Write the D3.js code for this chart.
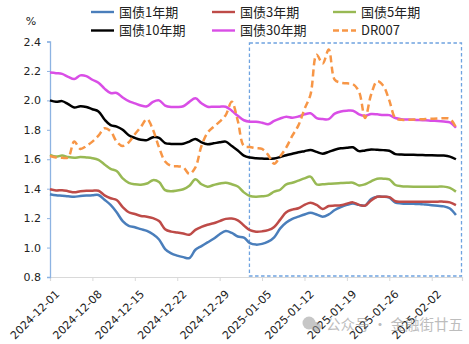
<!DOCTYPE html>
<html><head><meta charset="utf-8">
<script src="https://cdn.jsdelivr.net/npm/d3@7/dist/d3.min.js"></script>
<style>body{margin:0;background:#fff}svg{display:block}</style>
</head><body>
<script>
// ---- data ----
const startDate = "2024-12-01";      // first observation; one value per day
const tickDates = ["2024-12-01","2024-12-08","2024-12-15","2024-12-22","2024-12-29","2025-01-05","2025-01-12","2025-01-19","2025-01-26","2025-02-02"];
const yTicks = [0.8,1.0,1.2,1.4,1.6,1.8,2.0,2.2,2.4];
const seriesNames = ["国债1年期","国债3年期","国债5年期","国债10年期","国债30年期","DR007"];
const cgb1y = [1.362,1.355,1.352,1.348,1.345,1.35,1.353,1.355,1.357,1.325,1.29,1.24,1.18,1.148,1.138,1.125,1.113,1.09,1.055,0.99,0.96,0.945,0.935,0.928,0.985,1.01,1.035,1.06,1.09,1.112,1.1,1.075,1.068,1.03,1.02,1.025,1.04,1.07,1.13,1.17,1.195,1.21,1.225,1.237,1.225,1.21,1.225,1.255,1.275,1.29,1.3,1.29,1.285,1.33,1.345,1.345,1.34,1.305,1.3,1.298,1.297,1.296,1.292,1.288,1.284,1.28,1.265,1.221];
const cgb3y = [1.396,1.388,1.39,1.383,1.375,1.382,1.386,1.386,1.386,1.355,1.335,1.323,1.275,1.24,1.228,1.215,1.21,1.2,1.18,1.125,1.108,1.102,1.095,1.087,1.12,1.14,1.155,1.165,1.18,1.195,1.197,1.185,1.15,1.118,1.108,1.11,1.118,1.14,1.19,1.24,1.258,1.267,1.29,1.305,1.29,1.262,1.282,1.285,1.287,1.298,1.307,1.29,1.285,1.32,1.345,1.345,1.343,1.315,1.312,1.312,1.312,1.312,1.312,1.312,1.312,1.312,1.307,1.289];
const cgb5y = [1.63,1.618,1.625,1.615,1.61,1.615,1.612,1.607,1.595,1.565,1.535,1.52,1.47,1.44,1.43,1.427,1.435,1.458,1.445,1.39,1.383,1.388,1.396,1.42,1.464,1.43,1.414,1.425,1.435,1.441,1.43,1.415,1.375,1.35,1.345,1.348,1.355,1.38,1.393,1.43,1.44,1.455,1.47,1.482,1.43,1.43,1.433,1.436,1.438,1.44,1.441,1.422,1.43,1.45,1.468,1.468,1.464,1.425,1.417,1.415,1.414,1.414,1.414,1.414,1.414,1.414,1.405,1.38];
const cgb10y = [2.0,1.99,1.995,1.975,1.952,1.96,1.955,1.94,1.925,1.87,1.832,1.822,1.8,1.763,1.745,1.732,1.73,1.75,1.745,1.71,1.704,1.703,1.705,1.72,1.738,1.715,1.702,1.708,1.715,1.72,1.69,1.66,1.625,1.612,1.607,1.605,1.603,1.605,1.615,1.627,1.637,1.647,1.655,1.663,1.65,1.638,1.65,1.665,1.675,1.678,1.681,1.655,1.66,1.667,1.664,1.662,1.658,1.635,1.632,1.63,1.63,1.629,1.628,1.627,1.626,1.625,1.618,1.6];
const cgb30y = [2.19,2.185,2.18,2.16,2.145,2.17,2.165,2.14,2.12,2.08,2.05,2.05,2.02,1.995,1.98,1.965,1.96,1.99,2.0,1.965,1.955,1.955,1.96,1.99,2.014,1.98,1.957,1.957,1.957,1.957,1.93,1.895,1.865,1.855,1.855,1.848,1.838,1.86,1.877,1.889,1.882,1.89,1.905,1.912,1.88,1.873,1.873,1.91,1.925,1.93,1.93,1.905,1.895,1.907,1.905,1.9,1.9,1.88,1.872,1.87,1.868,1.867,1.865,1.862,1.86,1.856,1.85,1.814];
const dr007 = [1.622,1.612,1.61,1.612,1.72,1.67,1.69,1.72,1.76,1.81,1.79,1.72,1.69,1.715,1.77,1.82,1.873,1.8,1.68,1.585,1.555,1.552,1.545,1.5,1.545,1.69,1.78,1.82,1.855,1.9,1.99,1.86,1.69,1.683,1.675,1.67,1.63,1.57,1.62,1.68,1.76,1.83,1.94,2.04,2.31,2.25,2.345,2.14,2.12,2.116,2.11,2.06,1.88,2.04,2.13,2.1,2.0,1.88,1.868,1.868,1.87,1.871,1.873,1.875,1.877,1.878,1.875,1.817];
const highlightRange = ["2025-01-03","2025-02-07"];
const watermark = "公众号 · 金融街廿五";

// ---- layout/styles ----
const W = 469, H = 344;
const colors = ["#4a7ebb","#be4b48","#98b954","#000000","#d94ee6","#f79646"];
const seriesValues = [cgb1y,cgb3y,cgb5y,cgb10y,cgb30y,dr007];
const parse = d3.utcParse("%Y-%m-%d");
const fmt = d3.utcFormat("%Y-%m-%d");
const t0 = parse(startDate);

const svg = d3.select("body").append("svg").attr("width", W).attr("height", H);

const x = d3.scaleUtc().domain([t0, d3.utcDay.offset(t0, 68)]).range([50, 462]);
const y = d3.scaleLinear().domain([0.8, 2.4]).range([277, 41.5]);

// highlight box
svg.append("rect")
  .attr("x", x(parse(highlightRange[0])) - 0.5).attr("y", 43)
  .attr("width", x(parse(highlightRange[1])) - x(parse(highlightRange[0])))
  .attr("height", 233)
  .attr("fill", "none").attr("stroke", "#6fa3e0").attr("stroke-width", 1.3)
  .attr("stroke-dasharray", "3.5,2.5");

// x axis
const xAxis = d3.axisBottom(x).tickValues(tickDates.map(parse)).tickSize(4).tickFormat(fmt);
const gx = svg.append("g").attr("transform", "translate(0,277)").call(xAxis);
gx.select(".domain").attr("stroke", "#d9d9d9").attr("stroke-width", 1.2);
gx.selectAll(".tick line").attr("stroke", "#d9d9d9");
gx.selectAll(".tick text")
  .attr("font-family", "DejaVu Sans, Verdana, sans-serif").attr("font-size", 11).attr("fill", "#222")
  .attr("text-anchor", "end").attr("dy", "0.35em").attr("y", 0)
  .attr("transform", "translate(7,15) rotate(-45)");

// y axis
const yAxis = d3.axisLeft(y).tickValues(yTicks).tickSize(3).tickFormat(d3.format(".1f"));
const gy = svg.append("g").attr("transform", "translate(50,0)").call(yAxis);
gy.select(".domain").attr("stroke", "#8db3e2").attr("stroke-width", 1.3);
gy.selectAll(".tick line").attr("stroke", "#8db3e2");
gy.selectAll(".tick text")
  .attr("font-family", "DejaVu Sans, Verdana, sans-serif").attr("font-size", 11).attr("fill", "#222")
  .attr("x", -9);

svg.append("text").attr("x", 31).attr("y", 25).attr("text-anchor", "middle")
  .attr("font-family", "DejaVu Sans, sans-serif").attr("font-size", 11).attr("fill", "#222").text("%");

// lines
const line = d3.line()
  .x((d, i) => x(d3.utcDay.offset(t0, i)))
  .y(d => y(d))
  .curve(d3.curveCatmullRom.alpha(0.5));

seriesValues.forEach((vals, k) => {
  svg.append("path").datum(vals)
    .attr("fill", "none").attr("stroke", colors[k])
    .attr("stroke-width", 2.5).attr("stroke-linejoin", "round")
    .attr("stroke-dasharray", k === 5 ? "7,4" : null)
    .attr("d", line);
});

// legend
const legX = [91, 212, 333], legY = [12, 30.5];
seriesNames.forEach((name, k) => {
  const lx = legX[k % 3], ly = legY[Math.floor(k / 3)];
  svg.append("line").attr("x1", lx).attr("x2", lx + 23).attr("y1", ly).attr("y2", ly)
    .attr("stroke", colors[k]).attr("stroke-width", 2.4)
    .attr("stroke-dasharray", k === 5 ? "6,3" : null);
  svg.append("text").attr("x", lx + 28).attr("y", ly).attr("dy", "0.35em")
    .attr("font-family", "Noto Sans CJK SC, sans-serif").attr("font-size", 13).attr("fill", "#222")
    .text(name);
});

// watermark
const wm = svg.append("g").attr("opacity", 0.55);
wm.append("circle").attr("cx", 309).attr("cy", 323).attr("r", 6.5).attr("fill", "#999");
wm.append("circle").attr("cx", 316).attr("cy", 327).attr("r", 5).attr("fill", "#999");
wm.append("text").attr("x", 326).attr("y", 325).attr("dy", "0.35em")
  .attr("font-family", "Noto Sans CJK SC, sans-serif").attr("font-size", 14.5).attr("fill", "#888")
  .text(watermark);
</script>
</body></html>
